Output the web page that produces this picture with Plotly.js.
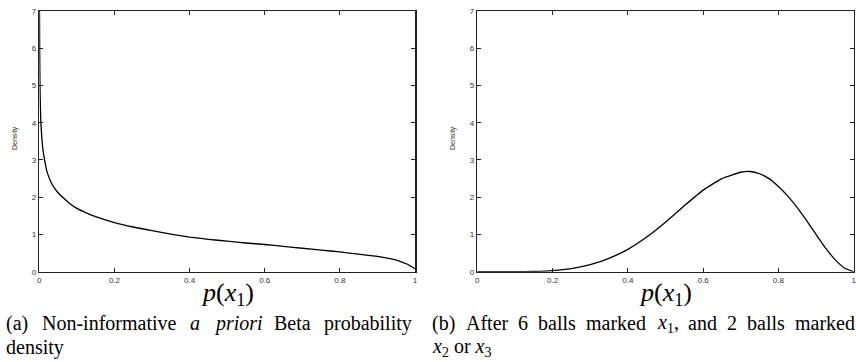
<!DOCTYPE html>
<html>
<head>
<meta charset="utf-8">
<script src="https://cdn.plot.ly/plotly-3.0.1.min.js"></script>
<style>html,body{margin:0;padding:0;background:#fff;}#chart{width:856px;height:362px;}</style>
</head>
<body>
<div id="chart"></div>
<script>
// Panel (a): non-informative prior Beta density
const priorX = [0.0005, 0.001, 0.002, 0.0035, 0.005, 0.0075, 0.01, 0.015, 0.02, 0.03, 0.04, 0.05, 0.065, 0.08, 0.1, 0.125, 0.15, 0.2, 0.25, 0.3, 0.35, 0.4, 0.45, 0.5, 0.55, 0.6, 0.65, 0.7, 0.75, 0.8, 0.85, 0.9, 0.93, 0.96, 0.98, 0.99, 1.0];
const priorY = [7.0, 5.9, 4.9, 4.2, 3.85, 3.5, 3.25, 2.95, 2.7, 2.43, 2.25, 2.12, 1.97, 1.84, 1.70, 1.58, 1.48, 1.32, 1.2, 1.1, 1.01, 0.93, 0.87, 0.82, 0.77, 0.73, 0.68, 0.63, 0.58, 0.53, 0.47, 0.41, 0.355, 0.28, 0.2, 0.14, 0.08];
// Panel (b): after 6 balls x1 and 2 balls x2 or x3
const postX = [0, 0.1, 0.15, 0.2, 0.25, 0.3, 0.35, 0.4, 0.45, 0.5, 0.55, 0.6, 0.65, 0.7, 0.725, 0.75, 0.775, 0.8, 0.825, 0.85, 0.875, 0.9, 0.925, 0.95, 0.975, 1.0];
const postY = [0, 0.002, 0.008, 0.03, 0.085, 0.19, 0.36, 0.6, 0.93, 1.33, 1.77, 2.19, 2.5, 2.67, 2.69, 2.63, 2.5, 2.29, 2.03, 1.72, 1.37, 1.0, 0.64, 0.33, 0.1, 0];
const xTicks = [0, 0.2, 0.4, 0.6, 0.8, 1];
const xTickText = ["0", "0.2", "0.4", "0.6", "0.8", "1"];
const yTicks = [0, 1, 2, 3, 4, 5, 6, 7];
const yTickText = ["0", "1", "2", "3", "4", "5", "6", "7"];
const xTitle = "<i>p</i>(<i>x</i><sub>1</sub>)";
const yTitle = "Density";
const capA1 = ["(a)", "Non-informative", "<i>a</i>", "<i>priori</i>", "Beta", "probability"];
const capA2 = "density";
const capB1 = ["(b)", "After", "6", "balls", "marked", "<i>x</i><sub>1</sub>,", "and", "2", "balls", "marked"];
const capB2 = "<i>x</i><sub>2</sub> or <i>x</i><sub>3</sub>";

const W = 856, H = 362;
const px = v => v / W, py = v => 1 - v / H;
const SERIF = 'Liberation Serif';
const CAP = 20;

const cv = document.createElement('canvas').getContext('2d');
function measure(html, size) {
  let italic = false, sub = false, w = 0;
  html.split(/(<\/?i>|<\/?sub>)/).forEach(tok => {
    if (tok === '<i>') italic = true;
    else if (tok === '</i>') italic = false;
    else if (tok === '<sub>') sub = true;
    else if (tok === '</sub>') sub = false;
    else if (tok) {
      cv.font = (italic ? 'italic ' : '') + (sub ? size * 0.7 : size) + 'px "' + SERIF + '"';
      w += cv.measureText(tok).width;
    }
  });
  return w;
}

const traces = [
  {x: priorX, y: priorY, xaxis: 'x', yaxis: 'y', type: 'scatter', mode: 'lines',
   line: {color: '#000', width: 1.3, shape: 'spline', smoothing: 0.5}, hoverinfo: 'skip'},
  {x: postX, y: postY, xaxis: 'x2', yaxis: 'y2', type: 'scatter', mode: 'lines',
   line: {color: '#000', width: 1.3, shape: 'spline', smoothing: 0.5}, hoverinfo: 'skip'}
];

const tickFont = {family: 'Liberation Sans', size: 8, color: '#333'};
function xa(dom, anchor) {
  return {domain: dom, anchor: anchor, range: [0, 1], tickvals: xTicks, ticktext: xTickText,
    ticks: 'inside', ticklen: 4, tickwidth: 1, tickcolor: '#222', showline: true, linecolor: '#222',
    linewidth: 1.5, mirror: 'ticks', showgrid: false, zeroline: false, tickfont: tickFont,
    ticklabeloverflow: 'allow', fixedrange: true};
}
function ya(anchor) {
  return {domain: [py(271.7), py(11)], anchor: anchor, range: [0, 7], tickvals: yTicks, ticktext: yTickText,
    ticks: 'inside', ticklen: 4, tickwidth: 1, tickcolor: '#222', showline: true, linecolor: '#222',
    linewidth: 1.5, mirror: 'ticks', showgrid: false, zeroline: false, tickfont: tickFont, fixedrange: true};
}

function ann(text, x, y, size, xanchor) {
  return {text: text, xref: 'paper', yref: 'paper', x: px(x), y: py(y), xanchor: xanchor || 'left',
    yanchor: 'middle', showarrow: false, borderpad: 0, borderwidth: 0,
    font: {family: SERIF, size: size, color: '#000'}};
}
function yann(x, y) {
  return {text: yTitle, xref: 'paper', yref: 'paper', x: px(x), y: py(y), xanchor: 'center', yanchor: 'middle',
    textangle: -90, showarrow: false, font: {family: 'Liberation Sans', size: 7, color: '#333'}};
}
function justify(words, x0, x1, y, size) {
  const ws = words.map(w => measure(w, size));
  const total = ws.reduce((a, b) => a + b, 0);
  const gap = (x1 - x0 - total) / (words.length - 1);
  let x = x0;
  return words.map((w, i) => { const a = ann(w, x, y, size, 'left'); x += ws[i] + gap; return a; });
}

const layout = {
  width: W, height: H, margin: {l: 0, r: 0, t: 0, b: 0},
  paper_bgcolor: '#fff', plot_bgcolor: '#fff', showlegend: false,
  xaxis: xa([px(39.3), px(415)], 'y'),
  yaxis: ya('x'),
  xaxis2: xa([px(477.3), px(853.7)], 'y2'),
  yaxis2: ya('x2'),
  annotations: [
    yann(15, 138), yann(453, 138),
    ann(xTitle, 227, 294, 26, 'center'),
    ann(xTitle, 665, 294, 26, 'center'),
    ...justify(capA1, 6, 412, 323, CAP),
    ann(capA2, 6, 347, CAP),
    ...justify(capB1, 432, 855, 323, CAP),
    ann(capB2, 432, 347, CAP)
  ]
};

Plotly.newPlot('chart', traces, layout, {displayModeBar: false, staticPlot: true});
</script>
</body>
</html>
